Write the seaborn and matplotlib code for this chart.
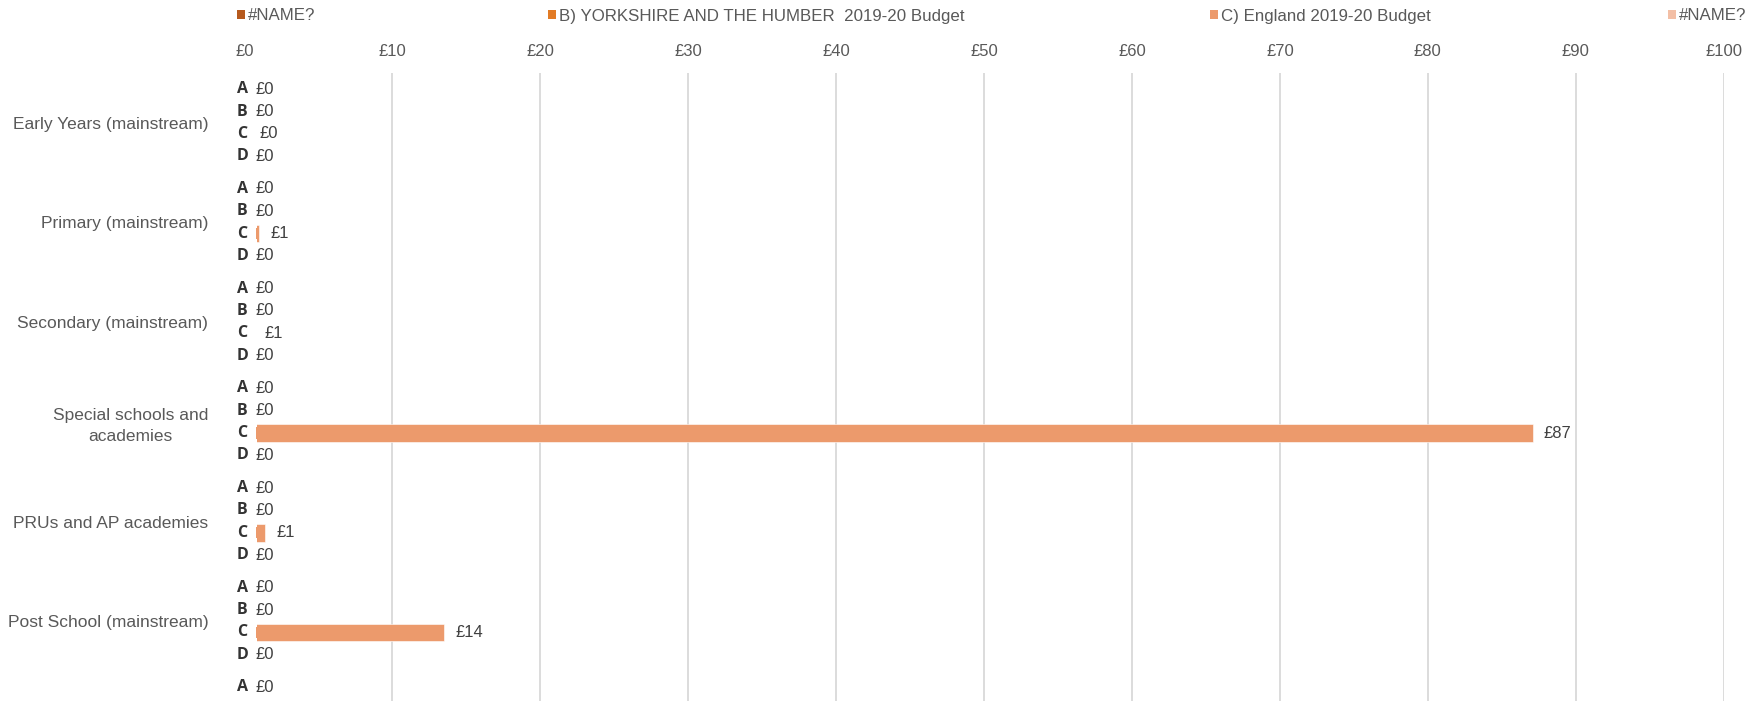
import numpy as np
import pandas as pd
import matplotlib
matplotlib.use("Agg")
import matplotlib.pyplot as plt
import seaborn as sns
from matplotlib.patches import Patch

# ---------------- data ----------------
categories = ["Early Years (mainstream)", "Primary (mainstream)", "Secondary (mainstream)",
              "Special schools and\nacademies", "PRUs and AP academies",
              "Post School (mainstream)", " "]
series_letters = ["A", "B", "C", "D"]
series_names = ["#NAME?", "B) YORKSHIRE AND THE HUMBER  2019-20 Budget",
                "C) England 2019-20 Budget", "#NAME?"]
series_colors = ["#B65A1E", "#E27B25", "#EC9A6C", "#F3BFA6"]
values_A = [0, 0, 0, 0, 0, 0, 0]
values_B = [0, 0, 0, 0, 0, 0, 0]
values_C = [0.3, 1.0, 0.6, 87.1, 1.4, 13.5, 0]
values_D = [0, 0, 0, 0, 0, 0, 0]
x_ticks = [0, 10, 20, 30, 40, 50, 60, 70, 80, 90, 100]
x_tick_labels = ["£0", "£10", "£20", "£30", "£40", "£50", "£60", "£70", "£80", "£90", "£100"]

rows = []
for letter, vals in zip(series_letters, [values_A, values_B, values_C, values_D]):
    for cat, v in zip(categories, vals):
        rows.append({"category": cat, "series": letter, "value": v})
df = pd.DataFrame(rows)

# ---------------- style ----------------
sns.set_style("white")
plt.rcParams['font.family'] = ['Liberation Sans', 'DejaVu Sans']

W, H = 1752, 701
fig = plt.figure(figsize=(W / 100, H / 100), dpi=100)
ax_left, ax_right, ax_top = 244.4, 1723.7, 73.3
ax = fig.add_axes([ax_left / W, 0.0, (ax_right - ax_left) / W, 1 - ax_top / H])

sns.barplot(data=df, y="category", x="value", hue="series", order=categories,
            hue_order=series_letters, palette=dict(zip(series_letters, series_colors)),
            orient="h", width=0.896, gap=0.21, errorbar=None, legend=False,
            saturation=1, edgecolor="white", linewidth=0.4, ax=ax)

ax.set_xlim(0, 100)
ax.set_ylim(5.8, -0.496)
ax.xaxis.tick_top()
ax.set_xticks(x_ticks)
ax.set_xticklabels(x_tick_labels)
ax.tick_params(axis="x", length=0, pad=10, labelsize=12, labelcolor="#595959")
ax.tick_params(axis="y", length=0, pad=26, labelsize=12.5, labelcolor="#595959")
for lbl in ax.get_yticklabels():
    lbl.set_multialignment("center")
    lbl.set_linespacing(1.45)
ax.set_xlabel("")
ax.set_ylabel("")
ax.xaxis.grid(True, color="#d9d9d9", linewidth=1.3)
ax.yaxis.grid(False)
ax.set_axisbelow(True)
for s in ax.spines.values():
    s.set_visible(False)

# letters and value labels
for letter, cont in zip(series_letters, ax.containers):
    for bar in cont:
        y = bar.get_y() + bar.get_height() / 2
        w = bar.get_width()
        ax.annotate(letter, xy=(0, y), xytext=(-2, 0), textcoords="offset pixels",
                    ha="center", va="center", fontsize=11.5, fontweight="bold",
                    family=["Open Sans", "DejaVu Sans"], color="#333333",
                    bbox=dict(boxstyle="square,pad=0.55", fc="white", ec="none"),
                    zorder=5, annotation_clip=True)
        ax.annotate(f"£{w:.0f}", xy=(w, y), xytext=(11, 0), textcoords="offset pixels",
                    ha="left", va="center", fontsize=12, color="#404040", zorder=6,
                    annotation_clip=True)

# legend entries placed as in the reference
legend_x = [236.7, 548.0, 1209.6, 1668.0]
for name, color, lx in zip(series_names, series_colors, legend_x):
    leg = fig.legend([Patch(facecolor=color, edgecolor="none")], [name], loc="center left",
                     bbox_to_anchor=(lx / W, 1 - 16 / H), frameon=False,
                     fontsize=12.2, labelcolor="#595959", handlelength=0.5, handleheight=0.5,
                     handletextpad=0.15, borderpad=0, borderaxespad=0)

fig.savefig("out.png", dpi=100)
